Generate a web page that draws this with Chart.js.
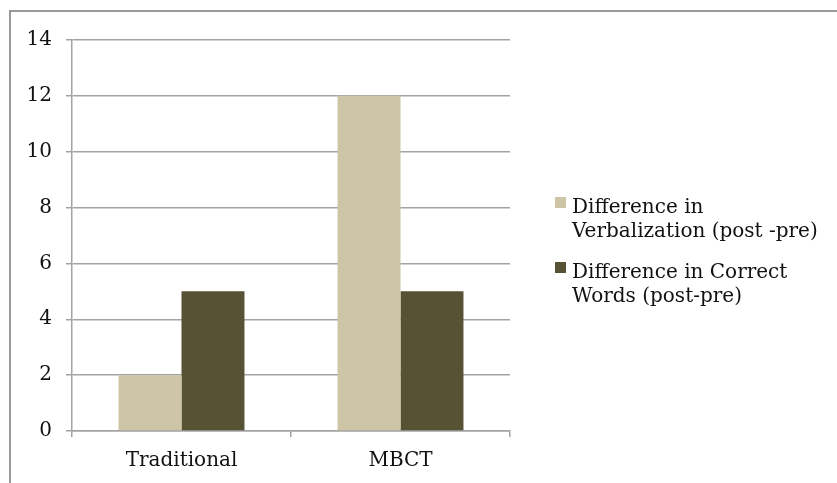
<!DOCTYPE html>
<html>
<head>
<meta charset="utf-8">
<script src="https://cdn.jsdelivr.net/npm/chart.js@4"></script>
<style>
  html, body { margin: 0; padding: 0; background: #fff; }
  #wrap { position: relative; width: 837px; height: 483px; overflow: hidden; }
  #frame { position: absolute; left: 9px; top: 10px; width: 900px; height: 600px;
           border-top: 2px solid #999; border-left: 2px solid #999; }
  #chart { position: absolute; left: 0; top: 0; }
  #legend { position: absolute; left: 555px; top: 194px; font-family: "DejaVu Serif", serif;
            font-size: 20px; color: #111; line-height: 24px; }
  .item { position: relative; padding-left: 17px; margin-bottom: 17px; }
  .box { position: absolute; left: 0; top: 3px; width: 11px; height: 11px; }
</style>
</head>
<body>
<div id="wrap">
  <div id="frame"></div>
  <canvas id="chart" width="837" height="483"></canvas>
  <div id="legend"></div>
</div>
<script>
// values
const categories = ['Traditional', 'MBCT'];
const verbalization = [2, 12];
const correctWords = [5, 5];
const seriesLabels = [
  ['Difference in', 'Verbalization (post -pre)'],
  ['Difference in Correct', 'Words (post-pre)']
];
const yTicks = [0, 2, 4, 6, 8, 10, 12, 14];

const colors = ['#cdc5a5', '#585235'];
const gridColor = '#a3a3a3';
const tickFont = { family: 'DejaVu Serif', size: 20 };

const ctx = document.getElementById('chart').getContext('2d');
const chart = new Chart(ctx, {
  type: 'bar',
  data: {
    labels: categories,
    datasets: [{
      label: seriesLabels[0].join(' '),
      data: verbalization,
      backgroundColor: colors[0],
      categoryPercentage: 0.575,
      barPercentage: 1
    }, {
      label: seriesLabels[1].join(' '),
      data: correctWords,
      backgroundColor: colors[1],
      categoryPercentage: 0.575,
      barPercentage: 1
    }]
  },
  options: {
    responsive: false,
    animation: false,
    layout: { padding: { left: 0, top: 40, right: 327, bottom: 0 } },
    scales: {
      y: {
        min: 0,
        max: 14,
        afterFit: (s) => { s.width = 72; },
        afterBuildTicks: (s) => { s.ticks = yTicks.map(v => ({ value: v })); },
        ticks: { color: '#111', font: tickFont, padding: 14 },
        grid: { color: gridColor, lineWidth: 1.5, tickLength: 6 },
        border: { color: gridColor, width: 1.5 }
      },
      x: {
        afterFit: (s) => { s.height = 52; },
        ticks: { color: '#111', font: tickFont, padding: 12 },
        grid: { offset: true, drawOnChartArea: false, color: gridColor, lineWidth: 1.5, tickLength: 6 },
        border: { color: gridColor, width: 1.5 }
      }
    },
    plugins: {
      legend: { display: false },
      tooltip: { enabled: false }
    }
  }
});

// legend built from the chart's datasets
const legend = document.getElementById('legend');
chart.data.datasets.forEach((ds, i) => {
  const item = document.createElement('div');
  item.className = 'item';
  const box = document.createElement('span');
  box.className = 'box';
  box.style.background = ds.backgroundColor;
  item.appendChild(box);
  seriesLabels[i].forEach(line => {
    const d = document.createElement('div');
    d.textContent = line;
    item.appendChild(d);
  });
  legend.appendChild(item);
});
</script>
</body>
</html>
